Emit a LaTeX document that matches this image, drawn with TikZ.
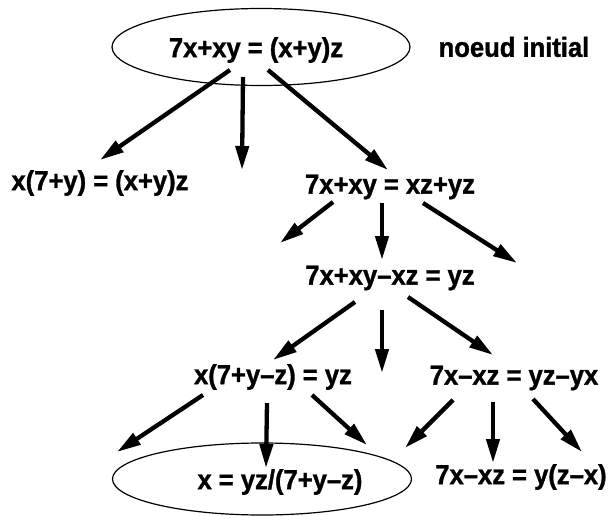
\documentclass[tikz,border=0pt]{standalone}
\usepackage{fontspec}
\setmainfont{Liberation Sans}[FakeStretch=0.93,BoldFeatures={FakeBold=1.2}]
\usetikzlibrary{arrows.meta,shapes.geometric}
\begin{document}
\begin{tikzpicture}[x=1pt,y=-1pt,
  lbl/.style={font=\fontsize{27.5}{31}\selectfont\bfseries, inner sep=0pt},
  ell/.style={draw, ellipse, line width=1.2pt, inner sep=0pt},
  arr/.style={line width=4.3pt, -{Triangle[length=24pt,width=13pt]}}]
\useasboundingbox (0,0) rectangle (613,516);
% nodes
\node[ell, minimum width=298pt, minimum height=77pt] (e0) at (261,47) {};
\node[lbl] (n0) at (256,50) {7x+xy = (x+y)z};
\node[lbl] (lab) at (514,47) {noeud initial};
\node[lbl] (n1) at (100,183) {x(7+y) = (x+y)z};
\node[lbl] (n2) at (390,187) {7x+xy = xz+yz};
\node[lbl] (n3) at (390,278) {7x+xy–xz = yz};
\node[lbl] (n4) at (273,377) {x(7+y–z) = yz};
\node[lbl] (n5) at (514,378) {7x–xz = yz–yx};
\node[ell, minimum width=299pt, minimum height=72pt] (e6) at (262,479) {};
\node[lbl] (n6) at (280,482) {x = yz/(7+y–z)};
\node[lbl] (n7) at (521,477) {7x–xz = y(z–x)};
% arrow anchor coordinates
\coordinate (a0l) at (230,70);  \coordinate (b0l) at (100,160);
\coordinate (a0m) at (243,77);  \coordinate (b0m) at (242,170);
\coordinate (a0r) at (268,70);  \coordinate (b0r) at (388,170);
\coordinate (a2l) at (333,202); \coordinate (b2l) at (280,243);
\coordinate (a2m) at (382,203); \coordinate (b2m) at (382,260);
\coordinate (a2r) at (423,203); \coordinate (b2r) at (517,263);
\coordinate (a3l) at (355,302); \coordinate (b3l) at (273,360);
\coordinate (a3m) at (382,310); \coordinate (b3m) at (382,373);
\coordinate (a3r) at (408,297); \coordinate (b3r) at (493,355);
\coordinate (a4l) at (203,395); \coordinate (b4l) at (117,452);
\coordinate (a4m) at (267,403); \coordinate (b4m) at (266,468);
\coordinate (a4r) at (312,395); \coordinate (b4r) at (367,445);
\coordinate (a5l) at (453,400); \coordinate (b5l) at (405,448);
\coordinate (a5m) at (493,402); \coordinate (b5m) at (493,463);
\coordinate (a5r) at (533,399); \coordinate (b5r) at (582,452);
% arrows
\foreach \s in {0,2,3,4,5}{
  \foreach \d in {l,m,r}{
    \draw[arr] (a\s\d) -- (b\s\d);
  }
}
\end{tikzpicture}
\end{document}
